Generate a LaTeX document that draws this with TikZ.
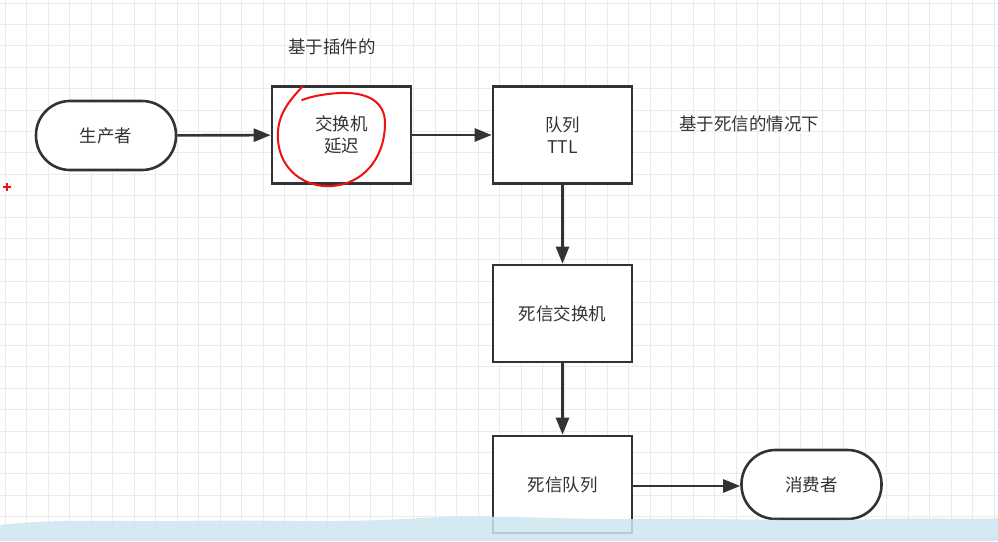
\documentclass[tikz,border=0pt]{standalone}
\usepackage{fontspec}
\setmainfont{Noto Sans CJK SC}
\usetikzlibrary{arrows.meta}
\definecolor{ink}{HTML}{333333}
\definecolor{gridc}{HTML}{EBEBEB}
\definecolor{wave}{HTML}{CDE6F0}
\definecolor{pen}{HTML}{F01010}
\begin{document}
\begin{tikzpicture}[x=1pt,y=-1pt,
  box/.style={draw=ink,line width=2.6pt,fill=white,minimum width=139pt,minimum height=97pt,inner sep=0pt,text=ink,font=\fontsize{17.5}{22}\selectfont,align=center},
  capsule/.style={draw=ink,line width=2.6pt,fill=white,rounded corners=34pt,minimum width=140pt,minimum height=69pt,inner sep=0pt,text=ink,font=\fontsize{17.5}{22}\selectfont},
  conn/.style={draw=ink,line width=2.6pt,-{Triangle[length=17pt,width=13pt]}},
  lbl/.style={text=ink,font=\fontsize{17.5}{22}\selectfont,inner sep=0pt}]
\useasboundingbox (0,0) rectangle (998,541);
\fill[white] (0,0) rectangle (998,541);
\foreach \i in {0,...,46} {\draw[gridc,line width=0.8pt] (5+21.5*\i,0) -- (5+21.5*\i,541);}
\foreach \j in {0,...,25} {\draw[gridc,line width=0.8pt] (0,3+21.4*\j) -- (998,3+21.4*\j);}
\node[capsule] (prod) at (106,135.5) {生产者};
\node[box] (ex) at (341.5,135) {交换机\\延迟};
\node[box] (q) at (562.5,135) {队列\\TTL};
\node[box] (dlx) at (562.5,313.5) {死信交换机};
\node[box] (dlq) at (562.5,484.5) {死信队列};
\node[capsule] (cons) at (811.5,484.5) {消费者};
\node[lbl] (l1) at (332,47) {基于插件的};
\node[lbl] (l2) at (749,124) {基于死信的情况下};
\draw[conn] (prod) -- (ex);
\draw[conn] (ex) -- (q);
\draw[conn] (q) -- (dlx);
\draw[conn] (dlx) -- (dlq);
\draw[conn] (dlq.east |- 0,486) -- (cons.west |- 0,486);
\draw[pen,line width=2pt,line cap=round]
  (303,86) .. controls (290,100) and (276,115) .. (278,140)
  .. controls (280,170) and (305,188) .. (332,186)
  .. controls (362,184) and (384,160) .. (385,125)
  .. controls (386,100) and (365,92) .. (340,93)
  .. controls (322,94) and (310,97) .. (302,100);
\draw[pen,line width=1.2pt] (3,187) -- (11,187) (7,183) -- (7,191);
\fill[wave,opacity=0.85] (0,525) .. controls (60,518) and (120,522) .. (180,521)
  .. controls (260,519) and (330,524) .. (420,518)
  .. controls (500,514) and (560,520) .. (640,519)
  .. controls (720,518) and (800,522) .. (880,519)
  .. controls (930,517) and (970,520) .. (998,518) -- (998,541) -- (0,541) -- cycle;
\end{tikzpicture}
\end{document}
